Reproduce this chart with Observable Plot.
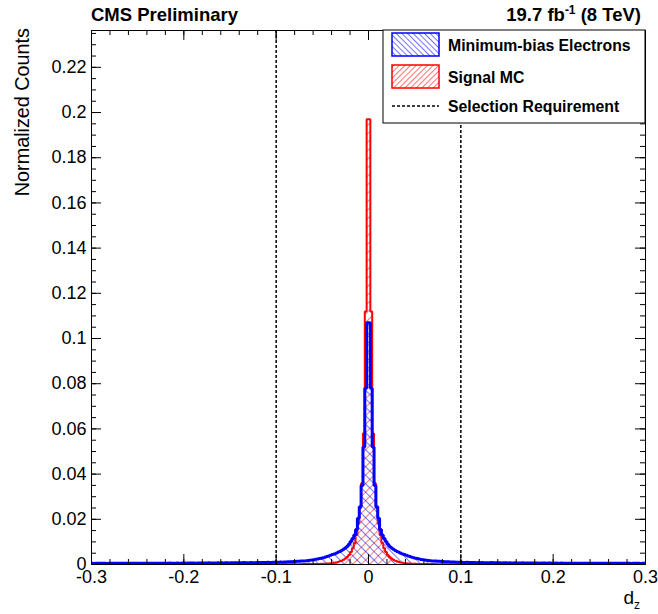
<!DOCTYPE html>
<html><head><meta charset="utf-8">
<script src="https://cdn.jsdelivr.net/npm/d3@7"></script>
<script src="https://cdn.jsdelivr.net/npm/@observablehq/plot@0.6"></script>
<style>
body{margin:0;background:#fff;}
#chart{width:658px;height:614px;}
</style>
</head><body><div id="chart"></div>
<script>
// ---- data ----
const binWidth = 0.002;                 // bin width in d_z
const binIndex = d3.range(-150, 150);   // bin j covers [j*binWidth, (j+1)*binWidth]
const minBiasElectrons = [
  0.0005,0.0004,0.0005,0.0005,0.0005,0.0005,0.0005,0.0005,0.0004,0.0005,
  0.0005,0.0005,0.0005,0.0005,0.0005,0.0006,0.0005,0.0005,0.0005,0.0005,
  0.0005,0.0006,0.0005,0.0005,0.0006,0.0006,0.0005,0.0006,0.0006,0.0006,
  0.0006,0.0006,0.0005,0.0006,0.0006,0.0006,0.0006,0.0006,0.0006,0.0006,
  0.0006,0.0006,0.0007,0.0006,0.0006,0.0006,0.0007,0.0006,0.0006,0.0007,
  0.0007,0.0006,0.0007,0.0007,0.0007,0.0007,0.0006,0.0007,0.0007,0.0007,
  0.0007,0.0007,0.0007,0.0008,0.0007,0.0007,0.0007,0.0007,0.0008,0.0007,
  0.0008,0.0007,0.0008,0.0008,0.0007,0.0008,0.0008,0.0008,0.0008,0.0008,
  0.0008,0.0008,0.0009,0.0008,0.0008,0.0008,0.0009,0.0008,0.0008,0.0009,
  0.0009,0.0009,0.0009,0.0009,0.0009,0.0010,0.0009,0.0009,0.0010,0.0010,
  0.0010,0.0010,0.0011,0.0010,0.0011,0.0011,0.0012,0.0012,0.0012,0.0013,
  0.0013,0.0014,0.0014,0.0015,0.0016,0.0016,0.0017,0.0018,0.0019,0.0020,
  0.0021,0.0023,0.0024,0.0026,0.0028,0.0030,0.0032,0.0035,0.0038,0.0041,
  0.0044,0.0047,0.0050,0.0054,0.0058,0.0062,0.0067,0.0073,0.0080,0.0090,
  0.0102,0.0115,0.0130,0.0155,0.0205,0.0255,0.0350,0.0520,0.0780,0.1070,
  0.1070,0.0780,0.0520,0.0350,0.0255,0.0205,0.0155,0.0130,0.0115,0.0102,
  0.0090,0.0080,0.0073,0.0067,0.0062,0.0058,0.0054,0.0050,0.0047,0.0044,
  0.0041,0.0038,0.0035,0.0032,0.0030,0.0028,0.0026,0.0024,0.0022,0.0021,
  0.0020,0.0019,0.0018,0.0017,0.0016,0.0015,0.0015,0.0014,0.0014,0.0013,
  0.0013,0.0012,0.0012,0.0012,0.0011,0.0011,0.0011,0.0010,0.0010,0.0010,
  0.0010,0.0009,0.0009,0.0010,0.0009,0.0009,0.0009,0.0009,0.0008,0.0009,
  0.0008,0.0009,0.0008,0.0008,0.0008,0.0008,0.0009,0.0008,0.0008,0.0008,
  0.0008,0.0008,0.0007,0.0008,0.0008,0.0007,0.0008,0.0007,0.0007,0.0008,
  0.0007,0.0007,0.0007,0.0008,0.0007,0.0007,0.0007,0.0007,0.0007,0.0007,
  0.0007,0.0007,0.0006,0.0007,0.0007,0.0007,0.0006,0.0007,0.0007,0.0006,
  0.0006,0.0007,0.0006,0.0006,0.0007,0.0006,0.0006,0.0006,0.0006,0.0006,
  0.0006,0.0006,0.0006,0.0005,0.0006,0.0006,0.0006,0.0006,0.0005,0.0006,
  0.0006,0.0005,0.0006,0.0006,0.0005,0.0005,0.0006,0.0005,0.0005,0.0006,
  0.0005,0.0005,0.0005,0.0006,0.0005,0.0005,0.0005,0.0005,0.0005,0.0005,
  0.0005,0.0005,0.0004,0.0005,0.0005,0.0005,0.0005,0.0004,0.0005,0.0005
];
const signalMC = [
  0.0001,0.0001,0.0001,0.0001,0.0001,0.0001,0.0001,0.0001,0.0001,0.0001,
  0.0001,0.0001,0.0001,0.0001,0.0001,0.0001,0.0001,0.0001,0.0001,0.0001,
  0.0001,0.0001,0.0001,0.0001,0.0001,0.0001,0.0001,0.0001,0.0001,0.0001,
  0.0001,0.0001,0.0001,0.0001,0.0001,0.0001,0.0001,0.0001,0.0001,0.0001,
  0.0001,0.0001,0.0001,0.0001,0.0001,0.0001,0.0001,0.0001,0.0001,0.0001,
  0.0001,0.0001,0.0001,0.0001,0.0001,0.0001,0.0001,0.0001,0.0001,0.0001,
  0.0001,0.0001,0.0001,0.0001,0.0001,0.0001,0.0001,0.0001,0.0001,0.0001,
  0.0001,0.0001,0.0001,0.0001,0.0001,0.0001,0.0001,0.0001,0.0001,0.0001,
  0.0001,0.0001,0.0001,0.0001,0.0001,0.0001,0.0001,0.0001,0.0001,0.0001,
  0.0001,0.0001,0.0001,0.0001,0.0001,0.0001,0.0001,0.0001,0.0001,0.0001,
  0.0001,0.0001,0.0001,0.0001,0.0001,0.0001,0.0001,0.0001,0.0001,0.0001,
  0.0001,0.0001,0.0001,0.0001,0.0002,0.0002,0.0002,0.0002,0.0002,0.0002,
  0.0002,0.0002,0.0002,0.0002,0.0003,0.0003,0.0003,0.0004,0.0004,0.0005,
  0.0006,0.0008,0.0009,0.0011,0.0014,0.0017,0.0021,0.0026,0.0033,0.0042,
  0.0055,0.0072,0.0095,0.0130,0.0180,0.0250,0.0360,0.0580,0.1120,0.1970,
  0.1970,0.1120,0.0580,0.0360,0.0250,0.0180,0.0130,0.0095,0.0072,0.0055,
  0.0042,0.0033,0.0026,0.0021,0.0017,0.0014,0.0011,0.0009,0.0008,0.0006,
  0.0005,0.0004,0.0004,0.0003,0.0003,0.0003,0.0002,0.0002,0.0002,0.0002,
  0.0002,0.0002,0.0002,0.0002,0.0002,0.0002,0.0001,0.0001,0.0001,0.0001,
  0.0001,0.0001,0.0001,0.0001,0.0001,0.0001,0.0001,0.0001,0.0001,0.0001,
  0.0001,0.0001,0.0001,0.0001,0.0001,0.0001,0.0001,0.0001,0.0001,0.0001,
  0.0001,0.0001,0.0001,0.0001,0.0001,0.0001,0.0001,0.0001,0.0001,0.0001,
  0.0001,0.0001,0.0001,0.0001,0.0001,0.0001,0.0001,0.0001,0.0001,0.0001,
  0.0001,0.0001,0.0001,0.0001,0.0001,0.0001,0.0001,0.0001,0.0001,0.0001,
  0.0001,0.0001,0.0001,0.0001,0.0001,0.0001,0.0001,0.0001,0.0001,0.0001,
  0.0001,0.0001,0.0001,0.0001,0.0001,0.0001,0.0001,0.0001,0.0001,0.0001,
  0.0001,0.0001,0.0001,0.0001,0.0001,0.0001,0.0001,0.0001,0.0001,0.0001,
  0.0001,0.0001,0.0001,0.0001,0.0001,0.0001,0.0001,0.0001,0.0001,0.0001,
  0.0001,0.0001,0.0001,0.0001,0.0001,0.0001,0.0001,0.0001,0.0001,0.0001,
  0.0001,0.0001,0.0001,0.0001,0.0001,0.0001,0.0001,0.0001,0.0001,0.0001
];
const selectionCuts = [-0.1, 0.1];
const xMajorTicks = [-0.3, -0.2, -0.1, 0, 0.1, 0.2, 0.3];
const xTickLabels = ["-0.3", "-0.2", "-0.1", "0", "0.1", "0.2", "0.3"];
const yMajorTicks = [0, 0.02, 0.04, 0.06, 0.08, 0.1, 0.12, 0.14, 0.16, 0.18, 0.2, 0.22];
const yTickLabels = ["0", "0.02", "0.04", "0.06", "0.08", "0.1", "0.12", "0.14", "0.16", "0.18", "0.2", "0.22"];
const legendLabels = ["Minimum-bias Electrons", "Signal MC", "Selection Requirement"];

// ---- helpers ----
function binsOf(values) {
  return binIndex.map((j, i) => ({x1: j * binWidth, x2: (j + 1) * binWidth, y: values[i]}));
}
function outlineOf(values) {
  const b = binsOf(values);
  const pts = [{x: b[0].x1, y: 0}];
  for (const d of b) { pts.push({x: d.x1, y: d.y}, {x: d.x2, y: d.y}); }
  pts.push({x: b[b.length - 1].x2, y: 0});
  return pts;
}

const W = 658, H = 614, mL = 91, mR = 13, mT = 30, mB = 50;
const fW = W - mL - mR, fH = H - mT - mB;
const xMinorTicks = d3.range(-15, 16).map(i => +(i * 0.02).toFixed(3));
const yMinorTicks = d3.range(0, 48).map(i => +(i * 0.005).toFixed(3)).filter(v => v <= 0.236);
const font = "'Liberation Sans', Arial, Helvetica, sans-serif";

const plot = Plot.plot({
  width: W, height: H,
  marginLeft: mL, marginRight: mR, marginTop: mT, marginBottom: mB,
  x: {domain: [-0.3, 0.3]},
  y: {domain: [0, 0.2363]},
  style: {fontFamily: font, background: "white", color: "black", overflow: "visible"},
  marks: [
    Plot.rect(binsOf(signalMC), {x1: "x1", x2: "x2", y1: 0, y2: "y", fill: "url(#hatchRed)", clip: true}),
    Plot.rect(binsOf(minBiasElectrons), {x1: "x1", x2: "x2", y1: 0, y2: "y", fill: "url(#hatchBlue)", clip: true}),
    Plot.line(outlineOf(signalMC), {x: "x", y: "y", stroke: "#ff0000", strokeWidth: 2, strokeLinejoin: "miter", clip: true}),
    Plot.line(outlineOf(minBiasElectrons), {x: "x", y: "y", stroke: "#0000ff", strokeWidth: 3, strokeLinejoin: "miter", clip: true}),
    Plot.ruleX(selectionCuts, {stroke: "black", strokeWidth: 1.5, strokeDasharray: "3,2"}),
    // inward ticks on all four sides
    Plot.tickX(xMajorTicks, {x: d => d, insetTop: fH - 10, stroke: "black"}),
    Plot.tickX(xMajorTicks, {x: d => d, insetBottom: fH - 10, stroke: "black"}),
    Plot.tickX(xMinorTicks, {x: d => d, insetTop: fH - 5, stroke: "black"}),
    Plot.tickX(xMinorTicks, {x: d => d, insetBottom: fH - 5, stroke: "black"}),
    Plot.tickY(yMajorTicks, {y: d => d, insetRight: fW - 10, stroke: "black"}),
    Plot.tickY(yMajorTicks, {y: d => d, insetLeft: fW - 10, stroke: "black"}),
    Plot.tickY(yMinorTicks, {y: d => d, insetRight: fW - 5, stroke: "black"}),
    Plot.tickY(yMinorTicks, {y: d => d, insetLeft: fW - 5, stroke: "black"}),
    Plot.axisX(xMajorTicks, {tickFormat: d => xTickLabels[xMajorTicks.indexOf(d)], tickSize: 0, tickPadding: 6, fontSize: 18, label: null}),
    Plot.axisY(yMajorTicks, {tickFormat: d => yTickLabels[yMajorTicks.indexOf(d)], tickSize: 0, tickPadding: 5, fontSize: 18, label: null}),
    Plot.frame({stroke: "black", strokeWidth: 1})
  ]
});

const svg = d3.select(plot);
const defs = svg.insert("defs", ":first-child");
function hatch(id, color, angle, spacing) {
  const p = defs.append("pattern").attr("id", id).attr("patternUnits", "userSpaceOnUse")
    .attr("width", spacing).attr("height", spacing)
    .attr("patternTransform", `rotate(${angle})`);
  p.append("line").attr("x1", 0).attr("y1", -1).attr("x2", 0).attr("y2", spacing + 1)
    .attr("stroke", color).attr("stroke-width", 1.1);
}
hatch("hatchBlue", "#0000ff", -45, 6);
hatch("hatchRed", "#ff0000", 45, 6);
hatch("hatchBlueLeg", "#0000ff", -45, 4);
hatch("hatchRedLeg", "#ff0000", 45, 4);

// titles
svg.append("text").attr("x", 91).attr("y", 21).attr("font-family", font).attr("font-size", 18.5)
  .attr("font-weight", "bold").attr("text-anchor", "start").text("CMS Preliminary");
const lumi = svg.append("text").attr("x", 641).attr("y", 21).attr("font-family", font).attr("font-size", 18.5)
  .attr("font-weight", "bold").attr("text-anchor", "end");
lumi.append("tspan").text("19.7 fb");
lumi.append("tspan").attr("font-size", 12).attr("dy", -7).text("-1");
lumi.append("tspan").attr("dy", 7).text(" (8 TeV)");

// axis titles
svg.append("text").attr("transform", "translate(29,28) rotate(-90)").attr("font-family", font)
  .attr("font-size", 19.8).attr("text-anchor", "end").text("Normalized Counts");
const dz = svg.append("text").attr("x", 640).attr("y", 604).attr("font-family", font)
  .attr("font-size", 19).attr("text-anchor", "end");
dz.append("tspan").text("d");
dz.append("tspan").attr("font-size", 12).attr("dy", 5).text("z");

// legend
const lg = svg.append("g");
lg.append("rect").attr("x", 383).attr("y", 30).attr("width", 262).attr("height", 93)
  .attr("fill", "white").attr("stroke", "black").attr("stroke-width", 1);
lg.append("rect").attr("x", 392).attr("y", 33).attr("width", 47).attr("height", 23)
  .attr("fill", "url(#hatchBlueLeg)").attr("stroke", "#0000ff").attr("stroke-width", 1.5);
lg.append("rect").attr("x", 392).attr("y", 65).attr("width", 47).attr("height", 23)
  .attr("fill", "url(#hatchRedLeg)").attr("stroke", "#ff0000").attr("stroke-width", 1.5);
lg.append("line").attr("x1", 392).attr("x2", 439).attr("y1", 106).attr("y2", 106)
  .attr("stroke", "black").attr("stroke-width", 1.5).attr("stroke-dasharray", "3,2");
[45, 77, 106].forEach((y, i) => {
  lg.append("text").attr("x", 448).attr("y", y).attr("dy", "0.35em").attr("font-family", font)
    .attr("font-size", 15.8).attr("font-weight", "bold").attr("text-anchor", "start").text(legendLabels[i]);
});

document.getElementById("chart").appendChild(plot);
</script>
</body></html>
